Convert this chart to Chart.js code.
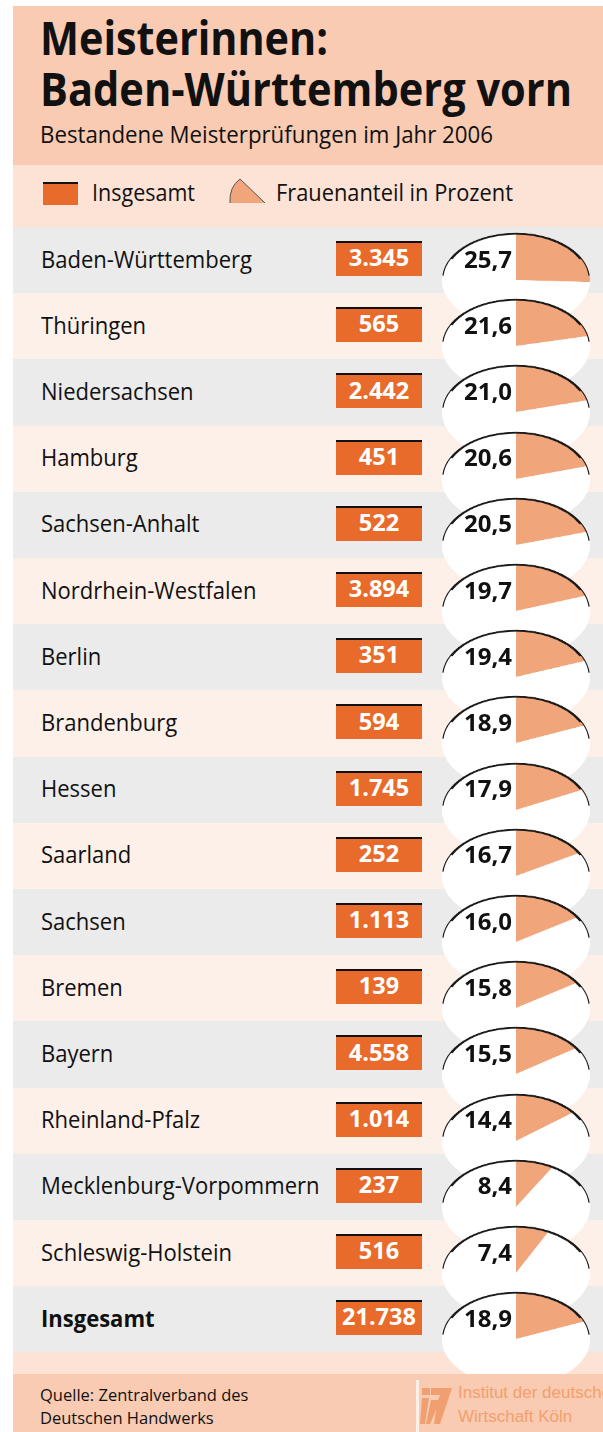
<!DOCTYPE html>
<html>
<head>
<meta charset="utf-8">
<script src="https://cdn.jsdelivr.net/npm/chart.js@4.4.1/dist/chart.umd.min.js"></script>
<style>
  body { margin: 0; width: 603px; height: 1432px; overflow: hidden; position: relative; background: #fff; font-family: "Open Sans", sans-serif; }
  .abs { position: absolute; white-space: nowrap; line-height: 1; }
</style>
</head>
<body>
<script>
// ---------------- DATA ----------------
const states = ["Baden-Württemberg", "Thüringen", "Niedersachsen", "Hamburg", "Sachsen-Anhalt",
  "Nordrhein-Westfalen", "Berlin", "Brandenburg", "Hessen", "Saarland", "Sachsen", "Bremen",
  "Bayern", "Rheinland-Pfalz", "Mecklenburg-Vorpommern", "Schleswig-Holstein", "Insgesamt"];
const totals = [3345, 565, 2442, 451, 522, 3894, 351, 594, 1745, 252, 1113, 139, 4558, 1014, 237, 516, 21738];
const womenShare = [25.7, 21.6, 21.0, 20.6, 20.5, 19.7, 19.4, 18.9, 17.9, 16.7, 16.0, 15.8, 15.5, 14.4, 8.4, 7.4, 18.9];

// ---------------- COLOURS / LAYOUT ----------------
const ORANGE = "#e96b2c";
const WEDGE = "#f1a57b";
const HEADER = "#f8cbb2";
const LIGHT = "#fce3d6";
const stripeColors = ["#ebebeb", "#fdf0e9"];
const ROW_TOP = 227, ROW_H = 66.2;

const fmtTotal = n => String(n).replace(/\B(?=(\d{3})+(?!\d))/g, ".");
const fmtPct = n => n.toFixed(1).replace(".", ",");

function box(x, y, w, h, bg, z) {
  const d = document.createElement("div");
  d.className = "abs";
  Object.assign(d.style, { left: x + "px", top: y + "px", width: w + "px", height: h + "px", background: bg, zIndex: z || 0 });
  document.body.appendChild(d);
  return d;
}

// text placed by baseline (Open Sans: baseline ~0.888em below top of a 1em line box)
function txt(str, x, base, size, opts = {}) {
  const d = document.createElement("div");
  d.className = "abs";
  d.textContent = str;
  Object.assign(d.style, {
    top: (base - 0.888 * size) + "px", fontSize: size + "px",
    fontWeight: opts.bold ? 700 : 400, color: opts.color || "#111", zIndex: opts.z || 1
  });
  if (opts.align === "right") { d.style.left = (x - 200) + "px"; d.style.width = "200px"; d.style.textAlign = "right"; }
  else if (opts.align === "center") { d.style.left = (x - 100) + "px"; d.style.width = "200px"; d.style.textAlign = "center"; }
  else d.style.left = x + "px";
  if (opts.font) d.style.fontFamily = opts.font;
  document.body.appendChild(d);
  return d;
}

// squeeze a text element horizontally to a given width
function squeeze(el, width) {
  const w = el.getBoundingClientRect().width;
  el.style.transformOrigin = "left center";
  el.style.transform = "scaleX(" + (width / w) + ")";
  return width / w;
}

// ---------------- BACKGROUND BANDS ----------------
box(13, 6, 590, 159, HEADER);
box(13, 165, 590, 62, LIGHT);
states.forEach((s, i) => {
  const top = Math.round(ROW_TOP + i * ROW_H);
  const bottom = Math.round(ROW_TOP + (i + 1) * ROW_H);
  box(13, top, 590, bottom - top, stripeColors[i % 2]);
});
box(13, Math.round(ROW_TOP + states.length * ROW_H), 590, 1374 - Math.round(ROW_TOP + states.length * ROW_H), LIGHT);

// ---------------- TITLE ----------------
const t1 = txt("Meisterinnen:", 40, 55, 46, { bold: true });
const t2 = txt("Baden-Württemberg vorn", 40, 106, 46, { bold: true });
const sub = txt("Bestandene Meisterprüfungen im Jahr 2006", 40, 143, 23);
t1.style.width = t2.style.width = sub.style.width = "auto";

// ---------------- LEGEND ----------------
const leg = box(43, 182, 35, 21, ORANGE, 1);
leg.style.borderTop = "2px solid #111";
const legSvg = document.createElementNS("http://www.w3.org/2000/svg", "svg");
legSvg.setAttribute("width", "603"); legSvg.setAttribute("height", "230");
legSvg.style.cssText = "position:absolute;left:0;top:0;z-index:1";
legSvg.innerHTML = '<path d="M230 203 Q229 187 240 179 L265 203 Z" fill="' + WEDGE + '"/>' +
  '<path d="M230 203 Q229 187 240 179 L265 203" fill="none" stroke="#555" stroke-width="1"/>';
document.body.appendChild(legSvg);
const l1 = txt("Insgesamt", 92, 201, 23);
const l2 = txt("Frauenanteil in Prozent", 276, 201, 23);

// ---------------- ROWS ----------------
const labels = [];
const pieCanvases = [];
states.forEach((s, i) => {
  const top = ROW_TOP + i * ROW_H;
  const last = i === states.length - 1;
  labels.push(txt(s, 41, top + 41, 24, { bold: last }));
  const b = box(336, Math.round(top + 14), 86, 33, ORANGE, 1);
  b.style.borderTop = "2px solid #111";
  txt(fmtTotal(totals[i]), 379, top + 40, 23.5, { bold: true, color: "#fff", align: "center", z: 2 });

  const cv = document.createElement("canvas");
  cv.width = 152; cv.height = 152;
  cv.className = "abs";
  Object.assign(cv.style, {
    left: "440px", top: (top + 53 - 76) + "px", width: "152px", height: "152px",
    transform: "scaleY(0.635)", transformOrigin: "center center", zIndex: 3
  });
  document.body.appendChild(cv);
  pieCanvases.push(cv);
  txt(fmtPct(womenShare[i]), 512, top + 41, 24, { bold: true, align: "right", z: 3 });
});

// ---------------- PIES ----------------
const pieBackdrop = {
  id: "pieBackdrop",
  beforeDatasetsDraw(chart) {
    const arc = chart.getDatasetMeta(0).data[0];
    const ctx = chart.ctx;
    ctx.save();
    ctx.fillStyle = "#fff";
    ctx.beginPath();
    ctx.arc(arc.x, arc.y, arc.outerRadius, 0, Math.PI * 2);
    ctx.fill();
    ctx.restore();
  },
  afterDatasetsDraw(chart) {
    const arc = chart.getDatasetMeta(0).data[0];
    const ctx = chart.ctx;
    ctx.save();
    ctx.strokeStyle = "#1a1a1a";
    ctx.lineWidth = 1.2;
    ctx.beginPath();
    ctx.arc(arc.x, arc.y, arc.outerRadius - 0.6, Math.PI * 1.03, Math.PI * 1.97);
    ctx.stroke();
    ctx.lineWidth = 2.6;
    ctx.beginPath();
    ctx.arc(arc.x, arc.y, arc.outerRadius - 1.3, Math.PI * 1.15, Math.PI * 1.85);
    ctx.stroke();
    ctx.restore();
  }
};

pieCanvases.forEach((cv, i) => {
  new Chart(cv.getContext("2d"), {
    type: "pie",
    data: {
      labels: ["Frauen", "Männer"],
      datasets: [{
        data: [womenShare[i], 100 - womenShare[i]],
        backgroundColor: [WEDGE, "#ffffff"],
        borderWidth: 0
      }]
    },
    options: {
      responsive: false,
      animation: false,
      events: [],
      layout: { padding: 2 },
      plugins: { legend: { display: false }, tooltip: { enabled: false } }
    },
    plugins: [pieBackdrop]
  });
});

// ---------------- FOOTER ----------------
box(13, 1374, 590, 58, HEADER, 10);
txt("Quelle: Zentralverband des", 40, 1402, 16.5, { z: 11 });
txt("Deutschen Handwerks", 40, 1425, 16.5, { z: 11 });
const logo = document.createElementNS("http://www.w3.org/2000/svg", "svg");
logo.setAttribute("width", "40"); logo.setAttribute("height", "52");
logo.style.cssText = "position:absolute;left:416px;top:1380px;z-index:11";
logo.innerHTML =
  '<rect x="0" y="0" width="3" height="52" fill="#fdf0e9"/>' +
  '<path d="M6 8 H14 V15 H6 Z M6 18 H13 L9 44 H4 Z" fill="#f0a070"/>' +
  '<path d="M15 8 H36 L24 44 H18 L20 30 L14 44 H10 L15 20 H22 L24 15 H15 Z" fill="#f0a070"/>';
document.body.appendChild(logo);
txt("Institut der deutschen", 458, 1399, 17, { color: "#f2a06e", font: "'Liberation Sans', Arial, sans-serif", z: 11 });
txt("Wirtschaft Köln", 458, 1423, 17, { color: "#f2a06e", font: "'Liberation Sans', Arial, sans-serif", z: 11 });

// ---------------- FIT TEXT WIDTHS ----------------
[t1, t2, sub, l1, l2].forEach(el => { el.style.display = "inline-block"; });
squeeze(t1, 288);
squeeze(t2, 532);
squeeze(sub, 453);
squeeze(l1, 103);
squeeze(l2, 237);
labels.forEach(el => { el.style.display = "inline-block"; });
const labelScale = 211 / labels[0].getBoundingClientRect().width;
labels.forEach(el => {
  el.style.transformOrigin = "left center";
  el.style.transform = "scaleX(" + labelScale + ")";
});
</script>
</body>
</html>
